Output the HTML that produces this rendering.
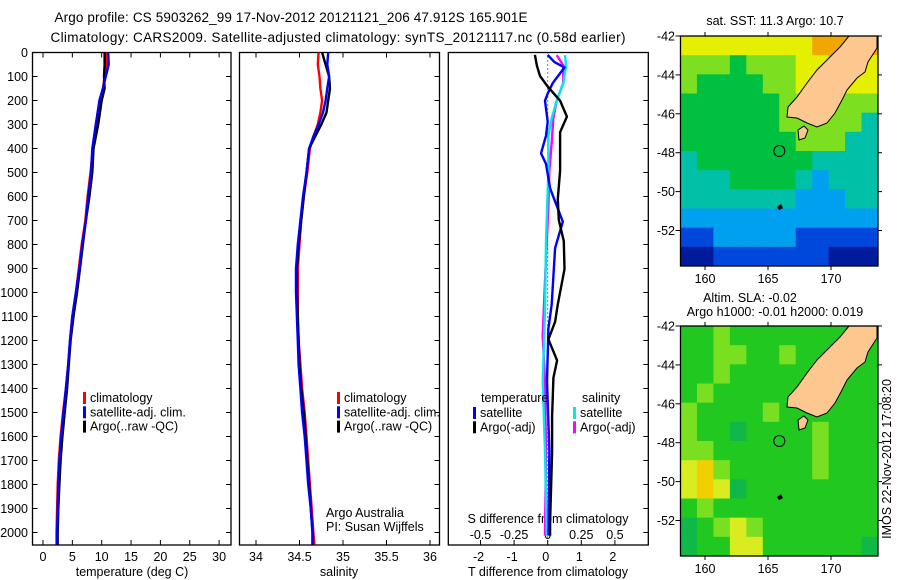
<!DOCTYPE html>
<html><head><meta charset="utf-8"><style>
html,body{margin:0;padding:0;background:#fff;}
svg{display:block;font-family:"Liberation Sans",sans-serif;}
text{font-size:12.5px;fill:#000;}
</style></head><body>
<svg id="fig" width="900" height="580" xmlns="http://www.w3.org/2000/svg">
<text x="291" y="22" text-anchor="middle" textLength="473" style="font-size:13.5px">Argo profile: CS 5903262_99 17-Nov-2012 20121121_206 47.912S 165.901E</text>
<text x="338" y="42" text-anchor="middle" textLength="575" style="font-size:13.5px">Climatology: CARS2009. Satellite-adjusted climatology: synTS_20121117.nc (0.58d earlier)</text>
<g id="plots"></g>
</svg>
<script>
// ---------- data ----------
const tDepth=[0,50,100,150,200,300,400,500,600,700,800,900,1000,1100,1200,1300,1400,1500,1600,1700,1800,1900,2000,2050];
const tClim=[10.7,10.8,10.5,10.2,9.7,9.0,8.5,8.1,7.6,7.2,6.6,6.1,5.6,5.0,4.6,4.3,3.9,3.4,3.0,2.7,2.5,2.4,2.3,2.3];
const tSat=[11.1,11.2,10.7,10.2,9.6,9.0,8.4,8.2,7.7,7.3,6.7,6.2,5.6,5.0,4.6,4.3,3.9,3.5,3.1,2.8,2.6,2.5,2.4,2.4];
const tArgo=[10.5,10.5,10.4,10.5,10.0,9.4,8.6,8.4,7.9,7.3,6.8,6.3,5.8,5.2,4.7,4.4,4.1,3.7,3.3,3.0,2.8,2.6,2.5,2.5];
const sDepth=[0,50,100,150,200,250,300,350,400,500,600,700,800,900,1000,1100,1200,1300,1400,1500,1600,1700,1800,1900,2000,2050];
const sClim=[34.72,34.71,34.73,34.74,34.76,34.74,34.71,34.66,34.62,34.59,34.55,34.52,34.50,34.48,34.48,34.48,34.49,34.51,34.53,34.56,34.58,34.60,34.62,34.64,34.66,34.67];
const sSat=[34.83,34.82,34.84,34.82,34.80,34.77,34.72,34.66,34.61,34.58,34.54,34.51,34.48,34.46,34.46,34.47,34.48,34.49,34.51,34.53,34.56,34.58,34.60,34.63,34.65,34.65];
const sArgo=[34.76,34.80,34.84,34.85,34.83,34.81,34.75,34.68,34.61,34.58,34.55,34.52,34.49,34.47,34.47,34.48,34.49,34.50,34.52,34.55,34.57,34.59,34.61,34.63,34.65,34.65];
const dTArgoDepth=[10,55,98,142,201,267,332,493,610,698,786,903,1049,1122,1195,1283,1356,1517,1663,1809,1955,2013];
const dTArgo=[-0.38,-0.32,-0.23,0,0.37,0.57,0.37,0.37,0.3,0.33,0.48,0.5,0.3,0.22,0.02,0.28,0.17,0.13,0.13,0.1,0.07,0.07];
const dTSatDepth=[10,40,62,128,171,201,288,347,420,464,566,705,815,932,1049,1151,1370,1663,2013];
const dTSat=[0,0.2,0.5,0.15,0,-0.08,0,-0.05,-0.2,-0.05,0.07,0.45,0.22,0.17,0.12,0.02,-0.02,0.05,0.02];
const dSArgoDepth=[11,55,128,201,274,376,493,639,858,1180,1370,1663,2013];
const dSArgo=[0.067,0.117,0.115,0.067,0.042,0.03,0.012,0.005,-0.013,-0.037,-0.02,-0.013,-0.02];
const dSSatDepth=[11,55,128,201,274,347,493,786,1078,1370,1663,2013];
const dSSat=[0.129,0.137,0.117,0.067,0.03,0.005,0.005,-0.013,-0.02,-0.037,-0.02,-0.007];
const depthTicks=[0,100,200,300,400,500,600,700,800,900,1000,1100,1200,1300,1400,1500,1600,1700,1800,1900,2000];
const tTicks=[0,5,10,15,20,25,30];
const sTicks=[34,34.5,35,35.5,36];
const dTTicks=[-2,-1,0,1,2];
const dSTicks=[-0.5,-0.25,0,0.25,0.5];
const dSTickLabels=["-0.5","-0.25","0","0.25","0.5"];
const lonTicks=[160,165,170];
const latTicks=[-42,-44,-46,-48,-50,-52];
const sstGrid=[
[6,6,6,6,6,6,6,6,7,7,7,7],[5,5,5,4,5,5,5,6,6,7,7,6],[5,4,4,4,4,5,5,6,6,6,6,6],
[4,4,4,4,4,4,5,5,5,5,5,5],[4,4,4,4,4,4,5,5,5,5,5,3],[4,4,4,4,4,4,4,5,5,5,3,3],
[3,4,4,4,4,4,4,4,3,3,3,3],[3,3,3,4,4,4,4,3,2,3,3,3],[3,3,3,3,3,3,3,2,2,2,3,3],
[2,2,2,2,2,2,2,2,2,2,2,2],[1,1,2,2,2,2,2,1,1,1,1,1],[0,0,1,1,1,1,1,1,1,0,0,0]];
const slaGrid=[
[4,4,5,4,4,4,4,4,4,4,4,4],[4,4,5,5,4,4,5,4,4,4,4,4],[4,4,5,4,4,4,4,4,4,4,4,4],
[4,5,4,4,4,4,4,4,4,4,4,4],[5,4,4,4,4,5,4,4,4,4,4,4],[5,4,4,3,4,4,4,4,5,4,4,4],
[5,5,4,4,4,4,4,4,5,4,4,4],[6,7,5,4,4,4,4,4,5,4,4,4],[6,7,6,3,4,4,4,4,4,4,4,4],
[4,5,4,4,4,4,4,4,4,4,4,4],[3,4,5,6,5,4,4,4,4,4,4,4],[3,4,4,6,6,4,4,4,4,4,4,3]];
const sstPalette=["#001c9c","#0048dc","#00a0f0","#00c0a8","#00c040","#7ce020","#e4f000","#f0a800"];
const slaPalette=["#0040c0","#0090e0","#00c0a0","#10b848","#20c820","#78e020","#d8ec20","#f0d000"];
// ---------- helpers ----------
const NS="http://www.w3.org/2000/svg";
const root=document.getElementById('plots');
function mk(tag,attrs,parent){const e=document.createElementNS(NS,tag);for(const k in attrs)e.setAttribute(k,attrs[k]);(parent||root).appendChild(e);return e;}
const TOP=52.5,BOT=545;
const yD=d=>TOP+d*0.24;
function line(x1,y1,x2,y2,w,parent){return mk('line',{x1,y1,x2,y2,stroke:'#000','stroke-width':w||1},parent);}
function txt(x,y,s,anchor,parent){const t=mk('text',{x,y,'text-anchor':anchor||'start'},parent);t.textContent=s;return t;}
function linePath(xs,ds,xf){return xs.map((v,i)=>(i?'L':'M')+xf(v).toFixed(1)+' '+yD(ds[i]).toFixed(1)).join(' ');}
function series(xs,ds,xf,color,name){const p=mk('path',{d:linePath(xs,ds,xf),fill:'none',stroke:color,'stroke-width':2.4,'stroke-linejoin':'round'});

}
function frame(x0,x1,name,leftTicks,rightTicks){const g=mk('g',{});


mk('rect',{x:x0,y:TOP,width:x1-x0,height:BOT-TOP,fill:'none',stroke:'#000','stroke-width':1.3},g);
depthTicks.forEach(d=>{if(leftTicks)line(x0,yD(d),x0+5,yD(d),1,g);if(rightTicks)line(x1-5,yD(d),x1,yD(d),1,g);});return g;}
function legend(x,y,items){items.forEach((it,i)=>{const g=mk('g',{});


mk('rect',{x:x,y:y+i*14.3-9,width:3,height:12,fill:it[1]},g);txt(x+7,y+i*14.3+1,it[0],'start',g);});}
// ---------- panel 1 ----------
const xT=v=>43+v*5.87;
const g1=frame(32.5,231,'temperature-panel',true,true);
depthTicks.forEach(d=>{const t=txt(28,yD(d)+4.5,String(d),'end');

});
tTicks.forEach(v=>{line(xT(v),BOT,xT(v),BOT-5,1,g1);line(xT(v),TOP,xT(v),TOP+5,1,g1);const t=txt(xT(v),561,String(v),'middle');

});
const xt1=txt(132,576,'temperature (deg C)','middle');


series(tClim,tDepth,xT,'#ff0000','temperature-climatology-line');
series(tArgo,tDepth,xT,'#000000','temperature-argo-line');
series(tSat,tDepth,xT,'#0000ff','temperature-satellite-line');
legend(83,401,[['climatology','#ff0000'],['satellite-adj. clim.','#0000ff'],['Argo(..raw -QC)','#000000']]);
// ---------- panel 2 ----------
const xS=v=>256+(v-34)*87;
const g2=frame(239.5,439.5,'salinity-panel',false,true);
sTicks.forEach(v=>{line(xS(v),BOT,xS(v),BOT-5,1,g2);line(xS(v),TOP,xS(v),TOP+5,1,g2);const t=txt(xS(v),561,String(v),'middle');

});
const xt2=txt(339,576,'salinity','middle');


series(sClim,sDepth,xS,'#ff0000','salinity-climatology-line');
series(sArgo,sDepth,xS,'#000000','salinity-argo-line');
series(sSat,sDepth,xS,'#0000ff','salinity-satellite-line');
legend(337,401,[['climatology','#ff0000'],['satellite-adj. clim.','#0000ff'],['Argo(..raw -QC)','#000000']]);
const c1=txt(326,517,'Argo Australia');
const c2=txt(326,531,'PI: Susan Wijffels');
// ---------- panel 3 ----------
const xDT=v=>547.7+v*33.6;
const xDS=v=>547.7+v*134.4;
const g3=frame(448.3,648.3,'difference-panel',false,true);
mk('line',{x1:xDT(0),y1:TOP,x2:xDT(0),y2:BOT,stroke:'#000','stroke-width':1,'stroke-dasharray':'1 3'},g3);
dTTicks.forEach(v=>{line(xDT(v),BOT,xDT(v),BOT-5,1,g3);const t=txt(xDT(v)-2,561,String(v),'middle');

});
dSTicks.forEach((v,i)=>{const t=txt(xDS(v),539,dSTickLabels[i],'middle');

});
const xt3=txt(548,523,'S difference from climatology','middle');

const xt4=txt(548,576,'T difference from climatology','middle');

series(dSArgo,dSArgoDepth,xDS,'#ff00ff','salinity-diff-argo-line');
series(dSSat,dSSatDepth,xDS,'#00e8e8','salinity-diff-satellite-line');
series(dTSat,dTSatDepth,xDT,'#0000ff','temperature-diff-satellite-line');
series(dTArgo,dTArgoDepth,xDT,'#000000','temperature-diff-argo-line');
const lt=txt(481,402,'temperature');
const ls=txt(582,402,'salinity');
legend(473,416,[['satellite','#0000ff'],['Argo(-adj)','#000000']]);
legend(573,416,[['satellite','#00e8e8'],['Argo(-adj)','#ff00ff']]);
// ---------- maps ----------
const LAND="M849,0 L877,0 L877,12 L868,26 L865,36 L857,42 L847,54 L842,64 L835,77 L827,87 L817,91 L807,87 L797,82 L787,81 L788,71 L797,61 L807,47 L817,34 L830,21 L840,11 Z";
function drawMap(top,grid,pal,name){
 const g=mk('g',{});
 
 
 const x0=680.5,x1=878,h=230,lonX=v=>705+(v-160)*12.6,latY=v=>top+(-42-v)*19.45;
 const cw=(x1-x0)/12,ch=h/12;
 grid.forEach((row,r)=>row.forEach((v,c)=>{const cell=mk('rect',{x:x0+c*cw,y:top+r*ch,width:cw+0.5,height:ch+0.5,fill:pal[v]},g);
  
  }));
 const land=mk('path',{d:LAND,transform:'translate(0,'+top+')',fill:'#fcc890',stroke:'#000','stroke-width':1},g);
 
 
 mk('path',{d:'M798,'+(top+94)+' l6,-4 l4,4 l-3,8 l-6,2 z',fill:'#fcc890',stroke:'#000'},g);
 mk('circle',{cx:lonX(165.9),cy:latY(-47.91),r:5.5,fill:'none',stroke:'#000','stroke-width':1},g);
 mk('path',{d:'M777,'+(latY(-50.8))+' l4,-3 l2,4 l-4,2 z',fill:'#000'},g);
 mk('rect',{x:x0,y:top,width:x1-x0,height:h,fill:'none',stroke:'#000','stroke-width':1.3},g);
 latTicks.forEach(v=>{line(x0-5,latY(v),x0,latY(v),1,g);line(x1,latY(v),x1+4,latY(v),1,g);const t=txt(675,latY(v)+4.5,String(v),'end',g);
  
  });
 lonTicks.forEach(v=>{line(lonX(v),top,lonX(v),top-4,1,g);line(lonX(v),top+h,lonX(v),top+h+4,1,g);const t=txt(lonX(v),top+h+17,String(v),'middle',g);
  
  });
 return g;}
drawMap(36,sstGrid,sstPalette,'sst-map');
drawMap(326,slaGrid,slaPalette,'sla-map');
const m1=txt(775,25,'sat. SST: 11.3 Argo: 10.7','middle');
const m2=txt(750,302,'Altim. SLA: -0.02','middle');
const m3=txt(775,316,'Argo h1000: -0.01 h2000: 0.019','middle');
const ts=txt(0,0,'IMOS 22-Nov-2012 17:08:20','middle');
ts.setAttribute('transform','translate(891,459) rotate(-90)');


</script>
</body></html>
